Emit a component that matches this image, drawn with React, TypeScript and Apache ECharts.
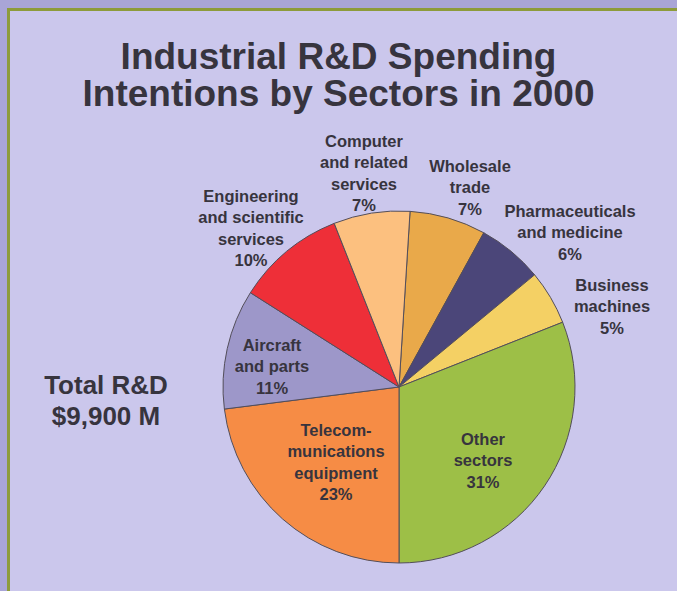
import React, { useEffect, useRef } from "react";
import * as echarts from "echarts";

const titleLines = ["Industrial R&D Spending", "Intentions by Sectors in 2000"];
const totalLines = ["Total R&D", "$9,900 M"];

// clockwise from just right of 12 o'clock
const sectors = [
  "Wholesale\ntrade",
  "Pharmaceuticals\nand medicine",
  "Business\nmachines",
  "Other\nsectors",
  "Telecom-\nmunications\nequipment",
  "Aircraft\nand parts",
  "Engineering\nand scientific\nservices",
  "Computer\nand related\nservices",
];
const shares = [7, 6, 5, 31, 23, 11, 10, 7];

const sliceColors = [
  "#e9a94a",
  "#4b4679",
  "#f4d064",
  "#9dbf47",
  "#f68c45",
  "#9d97c9",
  "#ee2f38",
  "#fcc07f",
];

// label block centres (px)
const labelCenters = [
  [470, 187],
  [570, 232],
  [612, 306],
  [483, 460],
  [336, 462],
  [272, 366],
  [251, 228],
  [364, 173],
];

const FONT = "'Liberation Sans', Arial, Helvetica, sans-serif";
const INK = "#37343e";

export default function App() {
  const ref = useRef<HTMLDivElement>(null);
  useEffect(() => {
    if (!ref.current) return;
    const chart = echarts.init(ref.current, undefined, { renderer: "svg" });
    chart.setOption({
      animation: false,
      backgroundColor: "#a9a5d7",
      title: {
        text: titleLines.join("\n"),
        left: "center",
        top: 33,
        textStyle: {
          fontFamily: FONT,
          fontWeight: "bold",
          fontSize: 37,
          lineHeight: 37,
          color: INK,
        },
      },
      graphic: [
        {
          type: "rect",
          z: -10,
          silent: true,
          shape: { x: 8.5, y: 9.5, width: 700, height: 600 },
          style: { fill: "#cbc7ec", stroke: "#8d9b3b", lineWidth: 3 },
        },
        {
          type: "text",
          x: 106,
          y: 400,
          style: {
            text: totalLines.join("\n"),
            font: `bold 26px ${FONT}`,
            lineHeight: 31,
            fill: INK,
            align: "center",
            verticalAlign: "middle",
          },
        },
      ],
      series: [
        {
          type: "pie",
          center: [399, 387],
          radius: 176,
          startAngle: 86.4,
          clockwise: true,
          avoidLabelOverlap: false,
          itemStyle: { borderColor: "#534e5a", borderWidth: 1 },
          label: {
            show: true,
            position: "outside",
            formatter: (p: any) => `${p.name}\n${p.value}%`,
            fontFamily: FONT,
            fontWeight: "bold",
            fontSize: 16.5,
            lineHeight: 21.5,
            color: INK,
            align: "center",
          },
          labelLine: { show: false },
          labelLayout: (p: any) => ({
            x: labelCenters[p.dataIndex][0],
            y: labelCenters[p.dataIndex][1],
            align: "center",
            verticalAlign: "middle",
          }),
          data: sectors.map((name, i) => ({
            name,
            value: shares[i],
            itemStyle: { color: sliceColors[i] },
          })),
        },
      ],
    });
    return () => chart.dispose();
  }, []);
  return (
    <div
      ref={ref}
      style={{ position: "fixed", left: 0, top: 0, width: 677, height: 591 }}
    />
  );
}
